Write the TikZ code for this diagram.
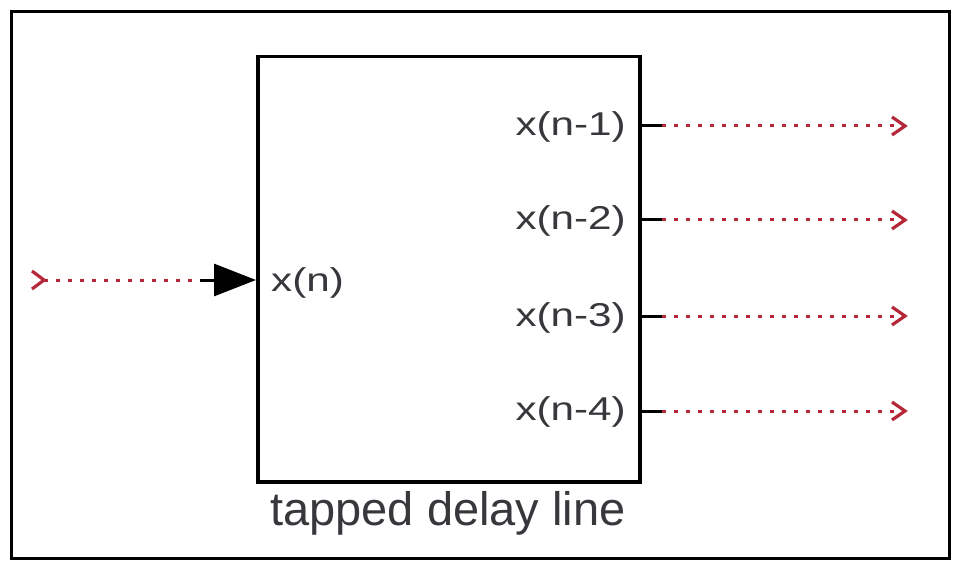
\documentclass[tikz,border=0pt]{standalone}
\usepackage{fontspec}
\setmainfont{Liberation Sans}
\newfontfamily\widesans[FakeStretch=1.28]{Liberation Sans}
\usetikzlibrary{arrows.meta}
\definecolor{sig}{RGB}{180,40,58}
\definecolor{txt}{RGB}{55,55,60}
\tikzset{
  frame/.style={draw=black, line width=3pt},
  blockbox/.style={draw=black, line width=3.5pt},
  lbl/.style={text=txt, font=\widesans\fontsize{33}{40}\selectfont, inner sep=0pt},
  sigline/.style={draw=sig, line width=3pt, dash pattern=on 3.5pt off 8.5pt},
  stub/.style={draw=black, line width=3pt},
  chevron/.style={draw=sig, line width=3.2pt}
}
\begin{document}
\begin{tikzpicture}[x=1pt,y=-1pt]
\useasboundingbox (0,0) rectangle (953,564);
\draw[frame] (11,12) rectangle (949,558);
\node[blockbox, minimum width=382pt, minimum height=425pt, anchor=north west, inner sep=0pt] (blk) at (256,55) {};
% labels
\node[lbl, anchor=west] (xn) at (271,283) {x(n)};
\node[lbl, anchor=east] (x1) at (626,127) {x(n-1)};
\node[lbl, anchor=east] (x2) at (626,221) {x(n-2)};
\node[lbl, anchor=east] (x3) at (626,318) {x(n-3)};
\node[lbl, anchor=east] (x4) at (626,412) {x(n-4)};
\node[text=txt, font=\fontsize{47}{54}\selectfont, inner sep=0pt] (cap) at (448,513) {tapped delay line};
% input
\coordinate (inS) at (44,280);
\coordinate (inM) at (200,280);
\coordinate (inE) at (blk.west |- inS);
\draw[chevron] (inS) ++(-12,-9) -- (inS) -- ++(-12,9);
\draw[sigline] (inS) -- (inM);
\draw[stub, -{Triangle[length=42pt,width=32pt]}] (inM) -- (inE);
% outputs
\foreach \n/\y in {1/126,2/220,3/316,4/411}{
  \coordinate (o\n s) at (638,\y);
  \coordinate (o\n m) at (662,\y);
  \coordinate (o\n e) at (905,\y);
  \draw[stub] (o\n s) -- (o\n m);
  \draw[sigline] (o\n m) -- (o\n e);
  \draw[chevron] (o\n e) ++(-13,-9) -- (o\n e) -- ++(-13,9);
}
\end{tikzpicture}
\end{document}
